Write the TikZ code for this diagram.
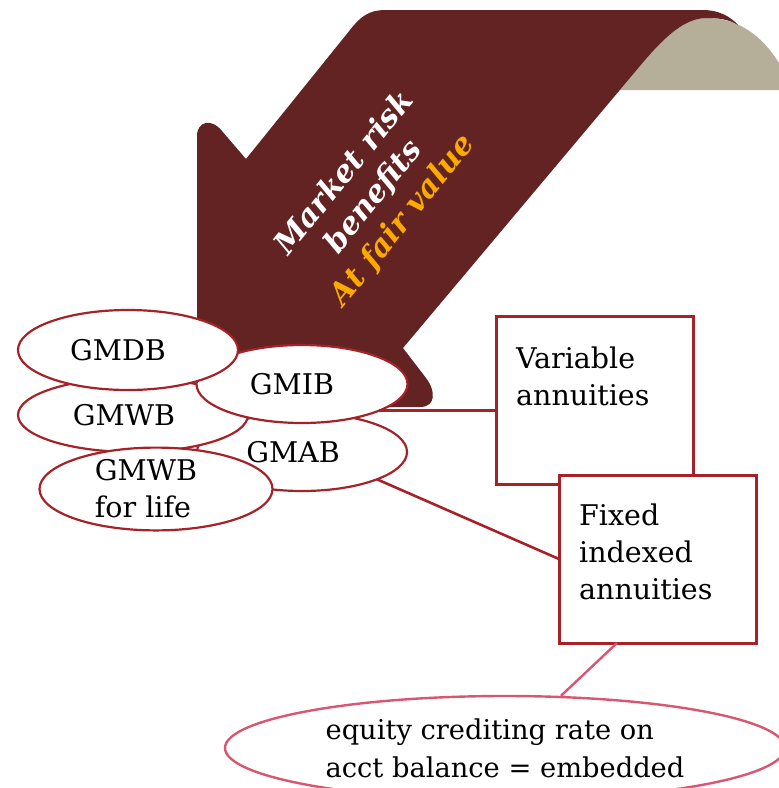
\documentclass[tikz,border=0pt]{standalone}
\usepackage{fontspec}
\setmainfont{DejaVu Serif}
\usetikzlibrary{shapes.geometric}
\definecolor{ribbon}{RGB}{98,35,34}
\definecolor{ribbonback}{RGB}{181,174,152}
\definecolor{frame}{RGB}{165,34,40}
\definecolor{rose}{RGB}{218,86,112}
\definecolor{gold}{RGB}{250,170,0}

\begin{document}
\begin{tikzpicture}[x=1pt,y=-1pt,
  every node/.style={font=\fontsize{28.5}{37}\selectfont},
  bubble/.style={ellipse, draw=frame, line width=2.2pt, fill=white, inner sep=0pt, outer sep=0pt},
  card/.style={rectangle, draw=frame, line width=3pt, fill=white, anchor=north west,
               minimum width=197pt, minimum height=168pt, inner sep=0pt, outer sep=0pt},
  cardtext/.style={anchor=base west, text width=180pt, align=left, inner sep=0pt},
  link/.style={draw=frame, line width=2.6pt},
  pinklink/.style={draw=rose, line width=2.4pt},
]
\useasboundingbox (0,0) rectangle (779,788);
\begin{scope}
\clip (0,0) rectangle (779,788);

% back face of the turning ribbon
\fill[ribbonback] (620,90) -- (640,66) .. controls (665,36) and (685,18) .. (707,18)
  .. controls (745,18) and (775,45) .. (792,90) -- cycle;

% the ribbon arrow pointing down-left
\fill[ribbon] (197,407) -- (197,136) .. controls (197,121) and (212,118) .. (222,131)
  -- (246,159) -- (350,30) .. controls (361,16) and (369,10) .. (386,10)
  -- (703,10) .. controls (718,10) and (730,16) .. (738,25)
  .. controls (728,19) and (718,18) .. (707,18)
  .. controls (685,18) and (665,36) .. (640,66)
  -- (403,348) -- (426,378) .. controls (436,391) and (436,407) .. (420,407) -- cycle;

\node[rotate=51, align=center, text=white,
      font=\fontsize{30.5}{37.5}\selectfont\bfseries\itshape] (mrb) at (374,197)
  {Market risk\\benefits\\\textcolor{gold}{At fair value}};

% guarantee bubbles
\node[bubble, minimum width=210pt, minimum height=78pt] (gmab) at (302,452) {GMAB\hspace*{18pt}};
\node[bubble, minimum width=230pt, minimum height=74pt] (gmwb) at (133,415) {GMWB\hspace*{18pt}};
\node[bubble, minimum width=211pt, minimum height=78pt] (gmib) at (302,384) {GMIB\hspace*{20pt}};
\node[bubble, minimum width=220pt, minimum height=80pt] (gmdb) at (128,350) {GMDB\hspace*{20pt}};
\node[bubble, minimum width=233pt, minimum height=81pt, align=left] (gmwbl) at (156,489)
  {GMWB\hspace*{20pt}\\for life};

% product boxes
\node[card] (va) at (496,316) {};
\node[cardtext] (vat) at (516,368) {Variable\\annuities};
\node[card] (fia) at (559,475) {};
\node[cardtext] (fiat) at (579,525) {Fixed\\indexed\\annuities};

% embedded derivative note
\node[ellipse, draw=rose, line width=2.4pt, fill=white, minimum width=560pt, minimum height=104pt,
      inner sep=0pt, align=left, font=\fontsize{27.3}{38}\selectfont] (eq) at (505,748)
  {equity crediting rate on\\acct balance = embedded};

% connectors
\draw[link] (gmib.-19.6) -- (gmib.-19.6 -| va.west);
\draw[link] (gmab.-20) -- (fia.west);
\draw[pinklink] ([xshift=58pt]fia.south west) -- (eq.43);
\end{scope}
\end{tikzpicture}
\end{document}
